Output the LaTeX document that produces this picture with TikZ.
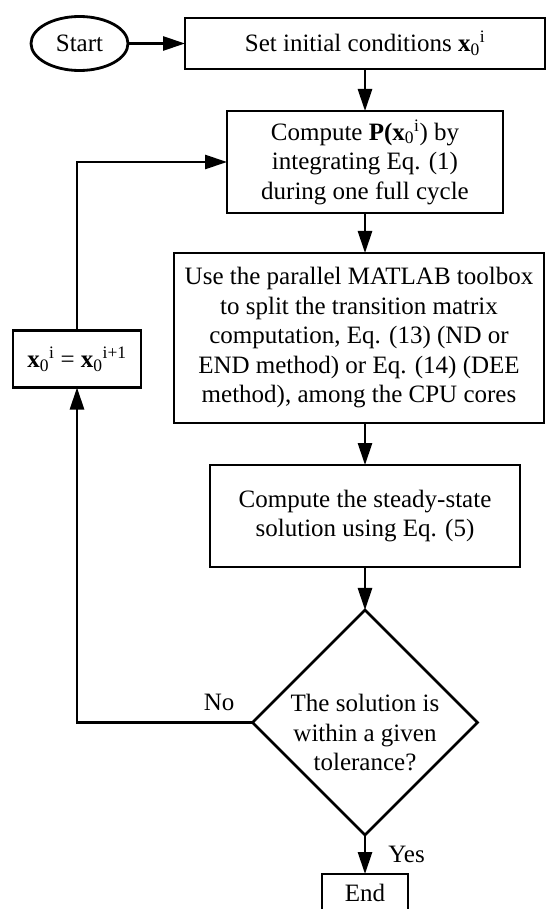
\documentclass[tikz,border=0pt]{standalone}
\usepackage{fontspec}
\setmainfont{Liberation Serif}
\usetikzlibrary{arrows.meta,positioning,shapes.geometric}

\begin{document}
\begin{tikzpicture}[->,>={Triangle[length=22pt,width=14pt]},
  line width=2.8pt, x=1pt, y=1pt,
  font=\fontsize{25}{29.5}\selectfont,
  stepbox/.style={rectangle,draw,inner sep=0pt,outer sep=0pt,align=center},
  startstop/.style={ellipse,draw,inner sep=0pt,outer sep=0pt,
                    minimum width=97pt,minimum height=54pt},
  decision/.style={diamond,draw,inner sep=0pt,outer sep=0pt,
                   minimum width=225pt,minimum height=225pt},
  edgelabel/.style={inner sep=0pt}]
  \useasboundingbox (0,0) rectangle (546,-909);

    \node[stepbox,minimum width=360pt,minimum height=51pt] (INIT) at (365,-43.5)
      {Set initial conditions \textbf{x}\textsubscript{0}\textsuperscript{i}};
    \node[startstop] (START) [left=57pt of INIT] {Start};
    \node[stepbox,minimum width=276pt,minimum height=102pt] (COMPUTE) [below=42pt of INIT]
      {Compute \textbf{P(x}\textsubscript{0}\textsuperscript{i}) by\\integrating Eq. (1)\\during one full cycle};
    \node[stepbox,minimum width=370pt,minimum height=170pt] (SPLIT) [below=40pt of COMPUTE,xshift=-6pt]
      {Use the parallel MATLAB toolbox\\to split the transition matrix\\computation, Eq. (13) (ND or\\END method) or Eq. (14) (DEE\\method), among the CPU cores};
    \node[stepbox,minimum width=310pt,minimum height=102pt] (STEADY) [below=42pt of SPLIT,xshift=6pt]
      {Compute the steady-state\\solution using Eq. (5)};
    \node[decision] (CHECK) [below=43pt of STEADY,
      label={[align=center,yshift=-10pt]center:{The solution is\\within a given\\tolerance?}}] {};
    \node[stepbox,minimum width=86pt,minimum height=38pt] (END) [below=39pt of CHECK] {End};
    % loop back
    \node[stepbox,minimum width=128pt,minimum height=57pt] (UPDATE) at (77,-359)
      {\textbf{x}\textsubscript{0}\textsuperscript{i} = \textbf{x}\textsubscript{0}\textsuperscript{i+1}};

    \draw (START) -- (INIT);
    \draw (INIT) -- (COMPUTE);
    \draw (COMPUTE.south) -- (COMPUTE.south |- SPLIT.north);
    \draw (STEADY.north |- SPLIT.south) -- (STEADY.north);
    \draw (STEADY) -- (CHECK);
    \draw (CHECK) -- node[edgelabel,right=22pt] {Yes} (END);
    \draw (CHECK.west) -- node[edgelabel,pos=0.19,above=10pt] {No}
      (CHECK.west -| UPDATE.south) -- (UPDATE.south);
    \draw (UPDATE.north) -- (UPDATE.north |- COMPUTE.west) -- (COMPUTE.west);

\end{tikzpicture}
\end{document}
